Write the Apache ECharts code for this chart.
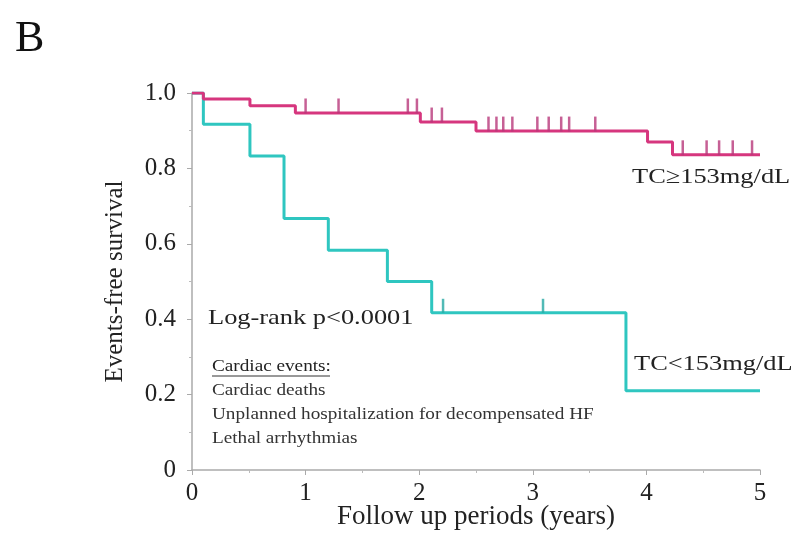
<!DOCTYPE html>
<html>
<head>
<meta charset="utf-8">
<script src="https://cdn.jsdelivr.net/npm/echarts@6/dist/echarts.min.js"></script>
<style>
  html, body { margin: 0; padding: 0; background: #fff; }
  #chart { width: 806px; height: 533px; }
</style>
</head>
<body>
<div id="chart"></div>
<script>
// Kaplan-Meier steps: time (years) where survival drops to the given value
const highTimes = [0, 0.10, 0.51, 0.91, 2.01, 2.50, 4.01, 4.23, 5.0];
const highSurv = [1.0, 0.984, 0.966, 0.947, 0.923, 0.899, 0.870, 0.836, 0.836];
const highCensor = [1.00, 1.29, 1.90, 1.98, 2.11, 2.20, 2.61, 2.68, 2.74, 2.82, 3.04, 3.14, 3.25, 3.32, 3.55, 4.32, 4.53, 4.64, 4.76, 4.93];

const lowTimes = [0, 0.10, 0.51, 0.81, 1.20, 1.72, 2.11, 3.82, 5.0];
const lowSurv = [1.0, 0.917, 0.833, 0.667, 0.583, 0.5, 0.417, 0.21, 0.21];
const lowCensor = [2.21, 3.09];

const xTicks = [0, 1, 2, 3, 4, 5];
const yTicks = [0, 0.2, 0.4, 0.6, 0.8, 1.0];
const eventLines = ['Cardiac deaths', 'Unplanned hospitalization for decompensated HF', 'Lethal arrhythmias'];

const pink = '#d6367e';
const teal = '#2fc6c0';
const serif = "'Liberation Serif', 'DejaVu Serif', serif";

function steps(times, surv) {
    return times.map((t, i) => [t, surv[i]]);
}
function levelAt(times, surv, t) {
    let s = surv[0];
    for (let i = 0; i < times.length; i++) {
        if (times[i] <= t) s = surv[i];
    }
    return s;
}
function censorPoints(censor, times, surv) {
    return censor.map(t => [t, levelAt(times, surv, t)]);
}
// the figure's lettering is a little stretched sideways
function label(text, x, y, size, color) {
    return {
        type: 'text', x: x, y: y, scaleX: 1.2,
        style: { text: text, font: size + 'px ' + serif, fill: color || '#222', verticalAlign: 'middle' }
    };
}

const chart = echarts.init(document.getElementById('chart'));
const option = {
    backgroundColor: '#fff',
    animation: false,
    grid: { left: 192, right: 46, top: 93, bottom: 63, outerBoundsMode: 'none' },
    xAxis: {
        type: 'value', min: xTicks[0], max: xTicks[xTicks.length - 1], interval: 1,
        name: 'Follow up periods (years)', nameLocation: 'middle', nameGap: 33, nameMoveOverlap: false,
        nameTextStyle: { fontFamily: serif, fontSize: 27, color: '#222' },
        axisLine: { lineStyle: { color: '#aaa', width: 1.5 } },
        axisTick: { show: true, length: 5, lineStyle: { color: '#aaa' } },
        minorTick: { show: true, splitNumber: 2, length: 3, lineStyle: { color: '#bbb' } },
        splitLine: { show: false },
        axisLabel: { fontFamily: serif, fontSize: 25, color: '#222', margin: 11 }
    },
    yAxis: {
        type: 'value', min: yTicks[0], max: yTicks[yTicks.length - 1], interval: 0.2,
        name: 'Events-free survival', nameLocation: 'middle', nameGap: 64, nameMoveOverlap: false,
        nameTextStyle: { fontFamily: serif, fontSize: 25, color: '#222' },
        axisLine: { show: true, lineStyle: { color: '#aaa', width: 1.5 } },
        axisTick: { show: true, length: 5, lineStyle: { color: '#aaa' } },
        minorTick: { show: true, splitNumber: 2, length: 3, lineStyle: { color: '#bbb' } },
        splitLine: { show: false },
        axisLabel: {
            fontFamily: serif, fontSize: 25, color: '#222', margin: 16,
            formatter: v => v === 0 ? '0' : v.toFixed(1)
        }
    },
    series: [
        {
            name: 'TC≥153mg/dL', type: 'line', step: 'end', showSymbol: false,
            data: steps(highTimes, highSurv),
            lineStyle: { color: pink, width: 3 }, z: 3
        },
        {
            name: 'TC<153mg/dL', type: 'line', step: 'end', showSymbol: false,
            data: steps(lowTimes, lowSurv),
            lineStyle: { color: teal, width: 3 }, z: 2
        },
        {
            type: 'scatter', data: censorPoints(highCensor, highTimes, highSurv),
            symbol: 'rect', symbolSize: [2.5, 15], symbolOffset: [0, -7],
            itemStyle: { color: '#b8387a' }, z: 4
        },
        {
            type: 'scatter', data: censorPoints(lowCensor, lowTimes, lowSurv),
            symbol: 'rect', symbolSize: [2.5, 14], symbolOffset: [0, -7],
            itemStyle: { color: '#27a9a4' }, z: 4
        }
    ],
    graphic: [
        { type: 'text', left: 15, top: 17, style: { text: 'B', font: '44px ' + serif, fill: '#111' } },
        label('TC≥153mg/dL', 632, 177, 22),
        label('TC<153mg/dL', 634, 364, 22),
        label('Log-rank p<0.0001', 208, 318, 22),
        label('Cardiac events:', 212, 367, 16),
        { type: 'line', shape: { x1: 212, y1: 376, x2: 330, y2: 376 }, style: { stroke: '#333', lineWidth: 1 } },
        label(eventLines[0], 212, 391, 16, '#333'),
        label(eventLines[1], 212, 415, 16, '#333'),
        label(eventLines[2], 212, 439, 16, '#333')
    ]
};
chart.setOption(option);
window.addEventListener('resize', () => chart.resize());
</script>
</body>
</html>
